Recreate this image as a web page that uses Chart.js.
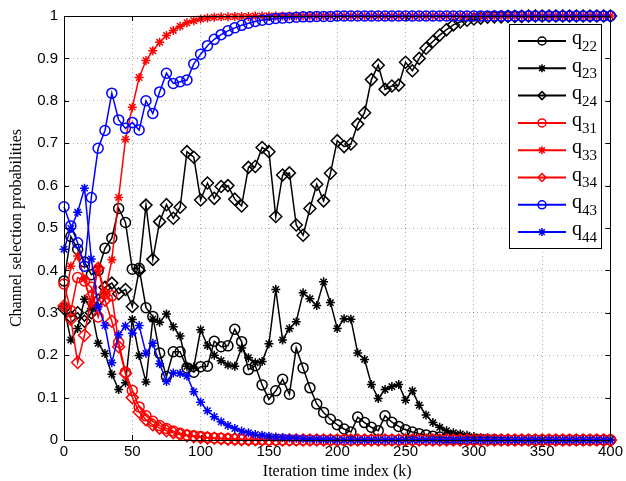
<!DOCTYPE html>
<html>
<head>
<meta charset="utf-8">
<script src="https://cdn.jsdelivr.net/npm/chart.js@4/dist/chart.umd.min.js"></script>
<style>
  body { margin: 0; background: #fff; }
  canvas { display: block; }
</style>
</head>
<body>
<canvas id="chart" width="626" height="481"></canvas>
<script>
// iteration index k (one marker every 5 iterations)
var iters = [0,5,10,15,20,25,30,35,40,45,50,55,60,65,70,75,80,85,90,95,
  100,105,110,115,120,125,130,135,140,145,150,155,160,165,170,175,180,185,190,195,
  200,205,210,215,220,225,230,235,240,245,250,255,260,265,270,275,280,285,290,295,
  300,305,310,315,320,325,330,335,340,345,350,355,360,365,370,375,380,385,390,395,400];

var xTicks = [0,50,100,150,200,250,300,350,400];
var yTicks = [0,0.1,0.2,0.3,0.4,0.5,0.6,0.7,0.8,0.9,1];

var q22 = [0.375,0.48,0.45,0.42,0.39,0.40,0.452,0.476,0.546,0.513,
  0.403,0.405,0.312,0.291,0.205,0.15,0.208,0.208,0.17,0.16,
  0.173,0.174,0.233,0.22,0.222,0.261,0.232,0.166,0.175,0.13,
  0.096,0.116,0.143,0.108,0.217,0.17,0.123,0.085,0.065,0.049,
  0.036,0.026,0.019,0.054,0.041,0.03,0.022,0.057,0.042,0.032,
  0.024,0.019,0.015,0.012,0.009,0.007,0.005,0.004,0.003,0.002,
  0.002,0.001,0.001,0.001,0,0,0,0,0,0,
  0,0,0,0,0,0,0,0,0,0,0];

var q23 = [0.314,0.236,0.263,0.332,0.31,0.228,0.204,0.155,0.119,0.135,
  0.284,0.199,0.137,0.285,0.278,0.297,0.267,0.245,0.174,0.172,
  0.26,0.223,0.2,0.187,0.177,0.174,0.217,0.194,0.182,0.185,
  0.227,0.355,0.236,0.263,0.279,0.347,0.333,0.317,0.373,0.324,
  0.263,0.286,0.285,0.205,0.19,0.131,0.098,0.119,0.126,0.131,
  0.094,0.116,0.082,0.059,0.041,0.03,0.022,0.017,0.014,0.011,
  0.008,0.006,0.004,0.003,0.002,0.001,0,0,0,0,
  0,0,0,0,0,0,0,0,0,0,0];

var q24 = [0.31,0.29,0.30,0.28,0.30,0.33,0.36,0.37,0.345,0.355,
  0.315,0.40,0.554,0.426,0.515,0.555,0.523,0.549,0.68,0.667,
  0.566,0.606,0.57,0.598,0.6,0.568,0.552,0.643,0.645,0.69,
  0.68,0.527,0.625,0.63,0.507,0.483,0.546,0.603,0.564,0.629,
  0.706,0.692,0.698,0.745,0.772,0.85,0.884,0.827,0.835,0.837,
  0.891,0.871,0.9,0.924,0.94,0.955,0.968,0.979,0.986,0.99,
  0.993,0.995,0.997,0.998,0.998,0.999,0.999,0.999,1,1,
  1,1,1,1,1,1,1,1,1,1,1];

var q31 = [0.368,0.305,0.383,0.375,0.36,0.29,0.345,0.34,0.23,0.16,
  0.117,0.078,0.057,0.044,0.034,0.027,0.021,0.016,0.012,0.01,
  0.008,0.006,0.005,0.004,0.003,0.002,0.002,0.001,0.001,0.001,
  0,0,0,0,0,0,0,0,0,0,
  0,0,0,0,0,0,0,0,0,0,
  0,0,0,0,0,0,0,0,0,0,
  0,0,0,0,0,0,0,0,0,0,
  0,0,0,0,0,0,0,0,0,0,0];

var q33 = [0.316,0.41,0.434,0.38,0.32,0.407,0.345,0.425,0.572,0.709,
  0.785,0.855,0.895,0.918,0.938,0.954,0.966,0.976,0.984,0.989,
  0.993,0.995,0.997,0.998,0.998,0.999,0.999,0.999,1,1,
  1,1,1,1,1,1,1,1,1,1,
  1,1,1,1,1,1,1,1,1,1,
  1,1,1,1,1,1,1,1,1,1,
  1,1,1,1,1,1,1,1,1,1,
  1,1,1,1,1,1,1,1,1,1,1];

var q34 = [0.316,0.285,0.183,0.247,0.34,0.405,0.33,0.28,0.22,0.157,
  0.1,0.066,0.048,0.036,0.028,0.022,0.017,0.013,0.01,0.008,
  0.006,0.005,0.004,0.003,0.002,0.002,0.001,0.001,0.001,0.001,
  0,0,0,0,0,0,0,0,0,0,
  0,0,0,0,0,0,0,0,0,0,
  0,0,0,0,0,0,0,0,0,0,
  0,0,0,0,0,0,0,0,0,0,
  0,0,0,0,0,0,0,0,0,0,0];

var q43 = [0.55,0.505,0.465,0.41,0.572,0.688,0.73,0.818,0.755,0.735,
  0.749,0.731,0.8,0.77,0.821,0.865,0.841,0.845,0.849,0.887,
  0.91,0.93,0.945,0.956,0.965,0.972,0.978,0.983,0.987,0.99,
  0.992,0.994,0.995,0.996,0.997,0.998,0.998,0.999,0.999,0.999,
  1,1,1,1,1,1,1,1,1,1,
  1,1,1,1,1,1,1,1,1,1,
  1,1,1,1,1,1,1,1,1,1,
  1,1,1,1,1,1,1,1,1,1,1];

var q44 = [0.45,0.499,0.537,0.594,0.427,0.314,0.27,0.182,0.248,0.269,
  0.252,0.27,0.204,0.228,0.18,0.138,0.158,0.157,0.151,0.114,
  0.089,0.069,0.055,0.043,0.034,0.027,0.021,0.017,0.013,0.011,
  0.009,0.007,0.006,0.005,0.004,0.003,0.002,0.002,0.001,0.001,
  0,0,0,0,0,0,0,0,0,0,
  0,0,0,0,0,0,0,0,0,0,
  0,0,0,0,0,0,0,0,0,0,
  0,0,0,0,0,0,0,0,0,0,0];

var names  = ['q22','q23','q24','q31','q33','q34','q43','q44'];
var series = [q22, q23, q24, q31, q33, q34, q43, q44];
var colors = ['#000000','#000000','#000000','#ff0000','#ff0000','#ff0000','#0000ff','#0000ff'];
var marks  = ['circle','star','rectRot','circle','star','rectRot','circle','star'];
var sizes  = {circle: 5, star: 4.5, rectRot: 6};

var toPoints = function(vals) {
  return iters.map(function(k, i) { return {x: k, y: vals[i]}; });
};

var datasets = names.map(function(n, i) {
  return {
    label: n,
    data: toPoints(series[i]),
    borderColor: colors[i],
    pointBorderColor: colors[i],
    pointBackgroundColor: 'rgba(0,0,0,0)',
    pointStyle: marks[i],
    pointRadius: sizes[marks[i]],
    pointBorderWidth: 1.5,
    borderWidth: 1.5,
    tension: 0,
    clip: false,
    order: names.length - i   // later series drawn on top, like matlab
  };
});

// box + inward ticks
var framePlugin = {
  id: 'frame',
  afterDatasetsDraw: function(chart) {
    var ctx = chart.ctx, a = chart.chartArea;
    var xs = chart.scales.x, ys = chart.scales.y;
    ctx.save();
    ctx.strokeStyle = '#000';
    ctx.lineWidth = 1;
    ctx.beginPath();
    ctx.rect(Math.round(a.left) + 0.5, Math.round(a.top) + 0.5,
             Math.round(a.right - a.left), Math.round(a.bottom - a.top));
    xTicks.forEach(function(t) {
      var px = Math.round(xs.getPixelForValue(t)) + 0.5;
      ctx.moveTo(px, a.bottom); ctx.lineTo(px, a.bottom - 5);
      ctx.moveTo(px, a.top); ctx.lineTo(px, a.top + 5);
    });
    yTicks.forEach(function(t) {
      var py = Math.round(ys.getPixelForValue(t)) + 0.5;
      ctx.moveTo(a.left, py); ctx.lineTo(a.left + 5, py);
      ctx.moveTo(a.right, py); ctx.lineTo(a.right - 5, py);
    });
    ctx.stroke();
    ctx.restore();
  }
};

// legend box with subscripts
var legendPlugin = {
  id: 'subLegend',
  afterDraw: function(chart) {
    var ctx = chart.ctx, a = chart.chartArea;
    var bw = 92, bh = 224;
    var bx = Math.round(a.right - 9 - bw), by = Math.round(a.top + 8);
    ctx.save();
    ctx.fillStyle = '#fff';
    ctx.fillRect(bx, by, bw, bh);
    ctx.strokeStyle = '#000';
    ctx.lineWidth = 1;
    ctx.strokeRect(bx + 0.5, by + 0.5, bw, bh);
    chart.data.datasets.forEach(function(ds, i) {
      var cy = by + 17 + i * 27.3;
      ctx.strokeStyle = ds.borderColor;
      ctx.lineWidth = 2;
      ctx.beginPath();
      ctx.moveTo(bx + 9, cy); ctx.lineTo(bx + 57, cy);
      ctx.stroke();
      ctx.lineWidth = 1.5;
      ctx.fillStyle = 'rgba(0,0,0,0)';
      Chart.helpers.drawPoint(ctx, {pointStyle: ds.pointStyle, radius: 4, rotation: 0, borderWidth: 1.5}, bx + 33, cy);
      ctx.fillStyle = '#000';
      ctx.textBaseline = 'middle';
      ctx.textAlign = 'left';
      ctx.font = '20px "Liberation Serif"';
      ctx.fillText(ds.label.charAt(0), bx + 63, cy - 2);
      var w = ctx.measureText(ds.label.charAt(0)).width;
      ctx.font = '15px "Liberation Serif"';
      ctx.fillText(ds.label.slice(1), bx + 63 + w, cy + 6);
    });
    ctx.restore();
  }
};

var tickFont = {family: '"Liberation Sans", Arial, sans-serif', size: 15};
var titleFont = {family: '"Liberation Serif", "Times New Roman", serif', size: 16};

var config = {
  type: 'line',
  data: {datasets: datasets},
  options: {
    responsive: false,
    animation: false,
    devicePixelRatio: 1,
    layout: {padding: {top: 16, right: 15, left: 0, bottom: 0}},
    plugins: {legend: {display: false}, tooltip: {enabled: false}},
    scales: {
      x: {
        type: 'linear', min: 0, max: 400,
        afterBuildTicks: function(s) { s.ticks = xTicks.map(function(v) { return {value: v}; }); },
        afterFit: function(s) { s.height = 41; },
        ticks: {font: tickFont, color: '#000', padding: 3, maxRotation: 0,
                callback: function(v) { return String(v); }},
        grid: {color: 'rgba(0,0,0,0.32)', drawTicks: false, lineWidth: 1},
        border: {display: true, color: '#000', dash: [1, 3]},
        title: {display: true, text: 'Iteration time index (k)', font: titleFont, color: '#000', padding: 0}
      },
      y: {
        type: 'linear', min: 0, max: 1,
        afterBuildTicks: function(s) { s.ticks = yTicks.map(function(v) { return {value: v}; }); },
        afterFit: function(s) { s.width = 64; },
        ticks: {font: tickFont, color: '#000', padding: 6,
                callback: function(v) { return String(+v.toFixed(1)); }},
        grid: {color: 'rgba(0,0,0,0.32)', drawTicks: false, lineWidth: 1},
        border: {display: true, color: '#000', dash: [1, 3]},
        title: {display: true, text: 'Channel selection probabilities', font: titleFont, color: '#000', padding: {top: 7, bottom: 0}}
      }
    }
  },
  plugins: [framePlugin, legendPlugin]
};

var chart = new Chart(document.getElementById('chart').getContext('2d'), config);
</script>
</body>
</html>
